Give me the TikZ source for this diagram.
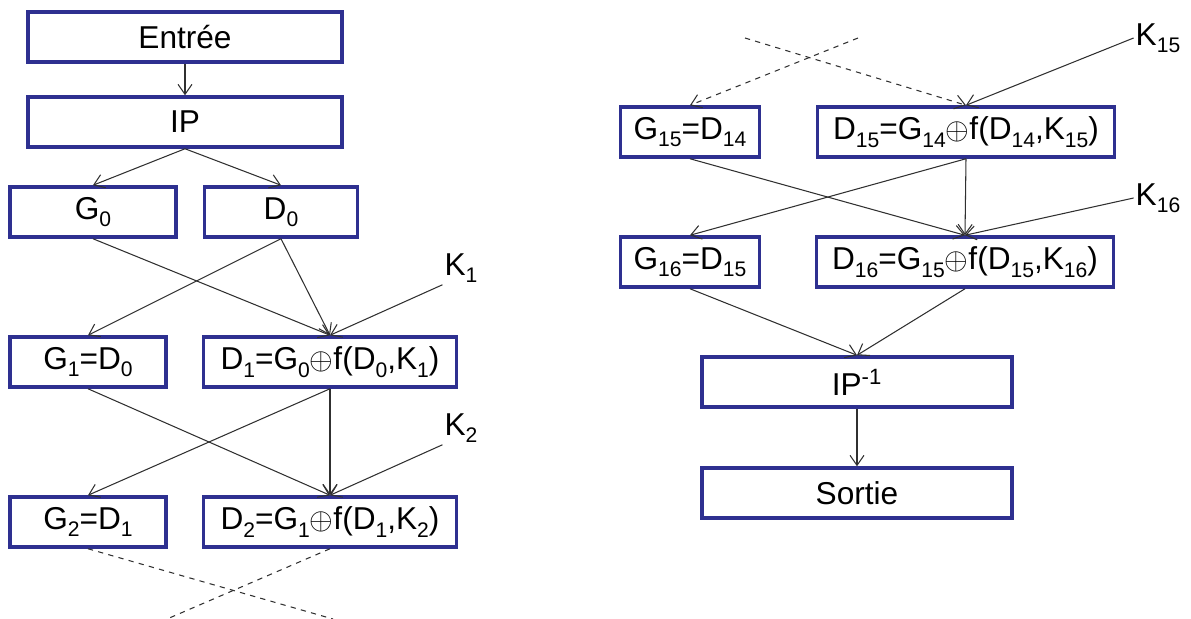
\documentclass[tikz,border=0pt]{standalone}
\usepackage{fontspec}
\setmainfont{Liberation Sans}
\usetikzlibrary{arrows.meta, positioning}
\definecolor{Navy}{HTML}{2E3090}
\definecolor{Ink}{HTML}{303030}
\newcommand{\ix}[1]{\raisebox{-0.45ex}{\fontsize{12}{12}\selectfont #1}}
\tikzset{
  desbox/.style={rectangle, draw=Navy, fill=white, line width=2pt,
                 minimum width=#1, minimum height=1cm, inner sep=0pt,
                 font=\fontsize{18}{20}\selectfont, text=black},
  desbox/.default=3cm,
  keylbl/.style={font=\fontsize{18}{20}\selectfont, inner sep=1pt},
  arr/.style={-{Straight Barb[length=2mm, width=2.8mm]}, line width=0.6pt, color=Ink},
  darr/.style={arr, dashed},
}

\begin{document}
\begin{tikzpicture}[x=0.02cm, y=-0.02cm]
  \useasboundingbox (0,0) rectangle (1191,619);
  % left column: first rounds
  \node[desbox=6.28cm] (in) at (185,37) {Entrée};
  \node[desbox=6.28cm] (ip) at (185,122) {IP};
  \node[desbox=3.32cm] (G0) at (93,212) {G\ix{0}};
  \node[desbox=3.06cm] (D0) at (281,212) {D\ix{0}};
  \node[desbox=3.12cm] (G1) at (88,362) {G\ix{1}=D\ix{0}};
  \node[desbox=5.06cm] (D1) at (330,362) {D\ix{1}=G\ix{0}$\oplus$f(D\ix{0},K\ix{1})};
  \node[desbox=3.12cm] (G2) at (88,522) {G\ix{2}=D\ix{1}};
  \node[desbox=5.06cm] (D2) at (330,522) {D\ix{2}=G\ix{1}$\oplus$f(D\ix{1},K\ix{2})};
  \node[keylbl] (K1) at (461,268) {K\ix{1}};
  \node[keylbl] (K2) at (461,428) {K\ix{2}};
  \coordinate (bl1) at (333,619);
  \coordinate (bl2) at (167,619);

  \draw[arr] (in) -- (ip);
  \draw[arr] (ip.south) -- (G0.north);
  \draw[arr] (ip.south) -- (D0.north);
  \draw[arr] (G0.south) -- (D1.north);
  \draw[arr] (D0.south) -- (G1.north);
  \draw[arr] (D0.south) -- (D1.north);
  \draw[arr] (K1.south west) -- (D1.north);
  \draw[arr] (G1.south) -- (D2.north);
  \draw[arr] (D1.south) -- (G2.north);
  \draw[arr] (D1.south) -- (D2.north);
  \draw[arr] (K2.south west) -- (D2.north);
  \draw[dashed, line width=0.6pt, Ink] (G2.south) -- (bl1);
  \draw[dashed, line width=0.6pt, Ink] (D2.south) -- (bl2);

  % right column: last rounds
  \node[desbox=2.78cm] (G15) at (690,132) {G\ix{15}=D\ix{14}};
  \node[desbox=5.94cm] (D15) at (966,132) {D\ix{15}=G\ix{14}$\oplus$f(D\ix{14},K\ix{15})};
  \node[desbox=2.78cm] (G16) at (690,262) {G\ix{16}=D\ix{15}};
  \node[desbox=5.94cm] (D16) at (965,262) {D\ix{16}=G\ix{15}$\oplus$f(D\ix{15},K\ix{16})};
  \node[desbox=6.2cm] (ipinv) at (857,382) {IP\textsuperscript{-1}};
  \node[desbox=6.2cm] (out) at (857,493) {Sortie};
  \node[keylbl] (K15) at (1158,38) {K\ix{15}};
  \node[keylbl] (K16) at (1158,198) {K\ix{16}};
  \coordinate (tr1) at (745,38);
  \coordinate (tr2) at (858,38);

  \draw[darr] (tr1) -- (D15.north);
  \draw[darr] (tr2) -- (G15.north);
  \draw[arr] (K15.west) -- (D15.north);
  \draw[arr] (G15.south) -- (D16.north);
  \draw[arr] (D15.south) -- (G16.north);
  \draw[arr] (D15.south) -- (D16.north);
  \draw[arr] (K16.west) -- (D16.north);
  \draw[arr] (G16.south) -- (ipinv.north);
  \draw[arr] (D16.south) -- (ipinv.north);
  \draw[arr] (ipinv) -- (out);
\end{tikzpicture}
\end{document}
